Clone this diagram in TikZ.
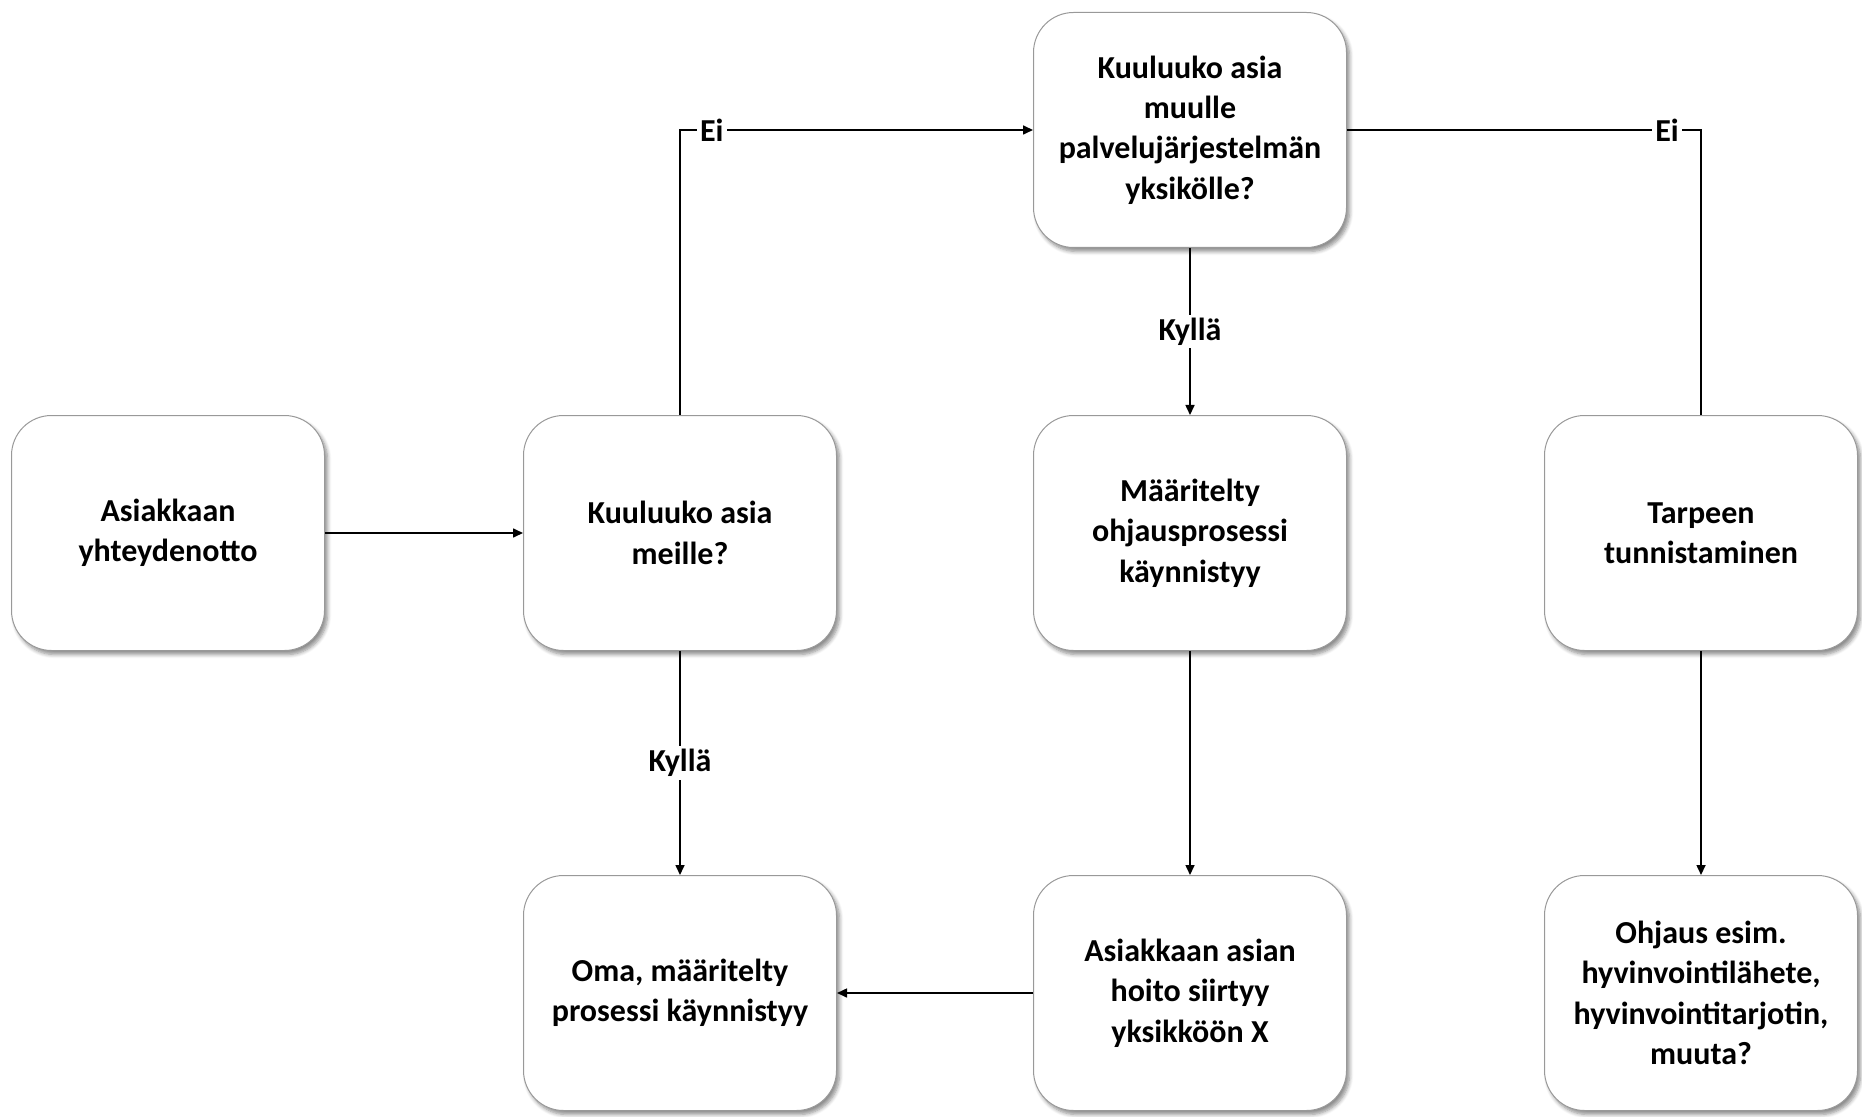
\documentclass[tikz,border=0pt]{standalone}
\usepackage{fontspec}
\setmainfont{Carlito}
\usetikzlibrary{arrows.meta,shadows.blur}
\begin{document}
\begin{tikzpicture}[x=0.5pt,y=-0.5pt,
 box/.style={draw=black!40, line width=0.5pt, rounded corners=20pt, fill=white,
   minimum width=156.5pt, minimum height=117.5pt, align=center,
   font=\bfseries\fontsize{16}{20.2}\selectfont,
   blur shadow={shadow xshift=1.5pt, shadow yshift=-2pt, shadow blur steps=6, shadow opacity=45}},
 line/.style={line width=0.8pt},
 conn/.style={line, -{Triangle[length=5pt,width=4.5pt]}},
 lbl/.style={fill=white, inner sep=1.5pt, font=\bfseries\fontsize{16}{20}\selectfont}]
\useasboundingbox (0,0) rectangle (1862,1117);
\node[box] (A) at (168,533) {Asiakkaan\\yhteydenotto};
\node[box] (B) at (680,533) {Kuuluuko asia\\meille?};
\node[box] (C) at (1190,130) {Kuuluuko asia\\muulle\\palvelujärjestelmän\\yksikölle?};
\node[box] (D) at (1190,533) {Määritelty\\ohjausprosessi\\käynnistyy};
\node[box] (E) at (1701,533) {Tarpeen\\tunnistaminen};
\node[box] (F) at (680,993) {Oma, määritelty\\prosessi käynnistyy};
\node[box] (G) at (1190,993) {Asiakkaan asian\\hoito siirtyy\\yksikköön X};
\node[box] (H) at (1701,993) {Ohjaus esim.\\hyvinvointilähete,\\hyvinvointitarjotin,\\muuta?};
\draw[conn] (A) -- (B);
\draw[conn] (B.north) |- node[lbl,pos=0.545]{Ei} (C.west);
\draw[line] (C.east) -| node[lbl,pos=0.452]{Ei} (E.north);
\draw[conn] (C) -- node[lbl]{Kyllä} (D);
\draw[conn] (B) -- node[lbl]{Kyllä} (F);
\draw[conn] (D) -- (G);
\draw[conn] (E) -- (H);
\draw[conn] (G) -- (F);
\end{tikzpicture}
\end{document}
